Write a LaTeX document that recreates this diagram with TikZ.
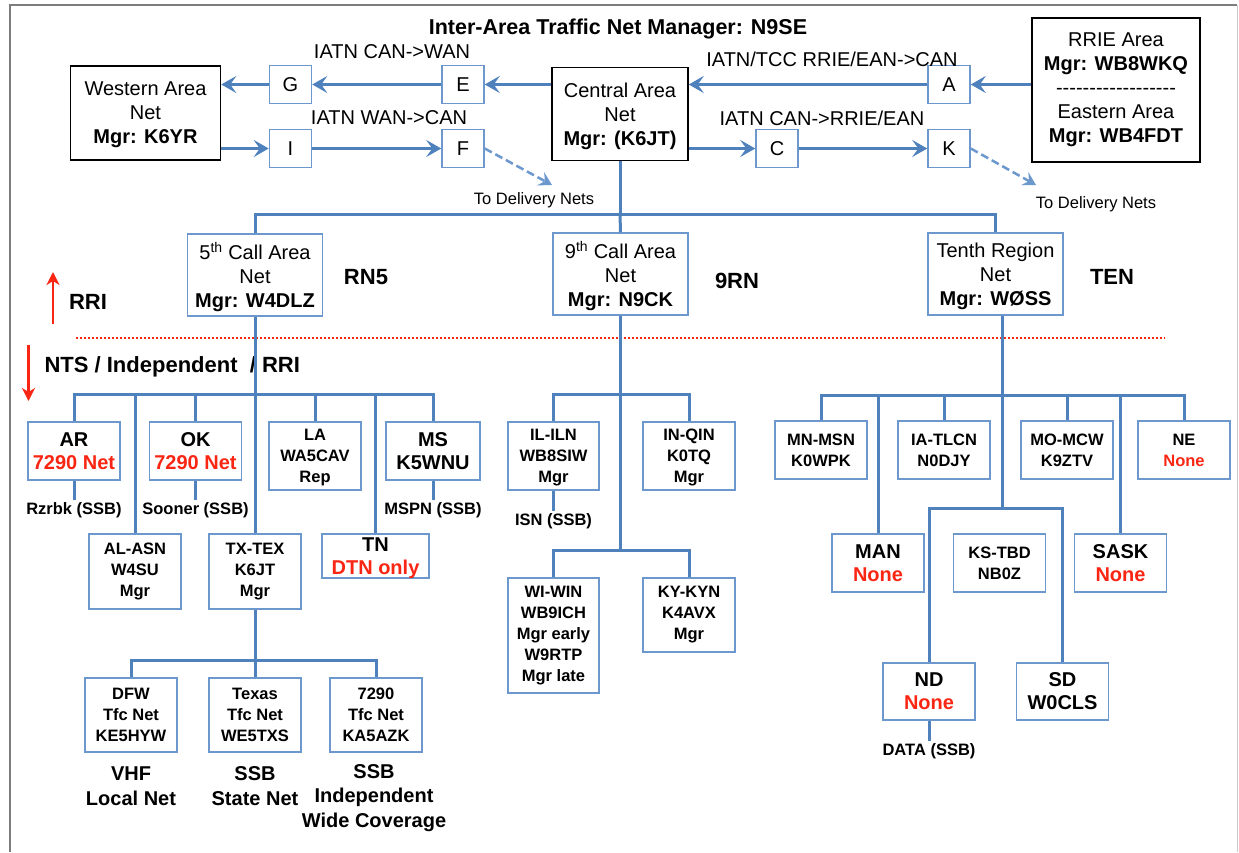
\documentclass[tikz,border=0pt]{standalone}
\usepackage{fontspec}
\setmainfont{Liberation Sans}
\usepackage{xcolor}
\usepackage{tikz}
\usetikzlibrary{calc}
\usetikzlibrary{arrows.meta}
\definecolor{net-blue1}{RGB}{79, 129, 189}
\definecolor{net-blue2}{RGB}{108, 152, 206}
\definecolor{net-red1}{RGB}{250, 38, 20}
\definecolor{net-gray1}{RGB}{125, 125, 125}
\newcommand{\redtx}[1]{\textcolor{net-red1}{#1}}
\newcommand{\dashrow}{\mbox{-}\mbox{-}\mbox{-}\mbox{-}\mbox{-}\mbox{-}\mbox{-}\mbox{-}\mbox{-}\mbox{-}\mbox{-}\mbox{-}\mbox{-}\mbox{-}\mbox{-}\mbox{-}\mbox{-}\mbox{-}}

\begin{document}
\begin{tikzpicture}[x=1pt, y=-1pt,
    net/.style={draw=black, line width=1.5pt, fill=white, align=center, inner sep=0pt, font=\fontsize{20}{24}\selectfont},
    relay/.style={draw=net-blue2, line width=1.5pt, fill=white, minimum width=42pt, minimum height=38pt, inner sep=0pt, font=\fontsize{20}{24}\selectfont},
    region/.style={draw=net-blue2, line width=1.5pt, fill=white, align=center, minimum width=135pt, minimum height=82pt, inner sep=0pt, font=\fontsize{20}{24}\selectfont},
    state/.style={draw=net-blue2, line width=1.5pt, fill=white, align=center, minimum width=92pt, inner sep=0pt, font=\bfseries\fontsize{16.5}{21}\selectfont},
    bigstate/.style={state, font=\bfseries\fontsize{20}{23}\selectfont},
    link/.style={draw=net-blue1, line width=3pt},
    feed/.style={link, -{Stealth[length=15pt, width=17pt, inset=6pt]}},
    spill/.style={draw=net-blue2, line width=2.5pt, dash pattern=on 8pt off 4pt, -{Stealth[length=13pt, width=15pt, inset=5pt]}},
    tag/.style={font=\bfseries\fontsize{16.5}{20}\selectfont, inner sep=3pt},
    lane/.style={font=\fontsize{20}{24}\selectfont},
    side/.style={font=\bfseries\fontsize{22}{26}\selectfont},
    bandcap/.style={align=center, font=\bfseries\fontsize{20}{24.5}\selectfont},
    rrimark/.style={draw=net-red1, line width=2.5pt, -{Stealth[length=13pt, width=13pt, inset=4pt]}}]
  \useasboundingbox (0,0) rectangle (1239,852);
  \draw[net-gray1, line width=2pt] (10,852) -- (10,5) -- (1237,5);
  \draw[net-gray1!40, line width=1pt] (1237,5) -- (1237,852);

  % area nets and the IATN relays
  \node[font=\bfseries\fontsize{21.5}{26}\selectfont] (title) at (618,29) {Inter-Area Traffic Net Manager: N9SE};
  \node[net, minimum width=150pt, minimum height=94pt, text depth=-10pt] (west) at (145.5,113) {Western Area\\Net\\\textbf{Mgr: K6YR}};
  \node[net, minimum width=136pt, minimum height=93pt, text depth=-9pt] (cen) at (620,114) {Central Area\\Net\\\textbf{Mgr: (K6JT)}};
  \node[net, minimum width=168pt, minimum height=144pt] (rrie) at (1116,90) {RRIE Area\\\textbf{Mgr: WB8WKQ}\\\dashrow\\Eastern Area\\\textbf{Mgr: WB4FDT}};
  \node[relay] (G) at (290.5,84.5) {G};
  \node[relay] (E) at (463,84.5) {E};
  \node[relay] (A) at (949,84.5) {A};
  \node[relay] (I) at (290.5,148.5) {I};
  \node[relay] (F) at (463,148.5) {F};
  \node[relay] (C) at (777,148.5) {C};
  \node[relay] (K) at (949,148.5) {K};
  \node[lane] (canwan) at (392,52) {IATN CAN->WAN};
  \node[lane] (wancan) at (389,118) {IATN WAN->CAN};
  \node[lane] (rriecan) at (832,59) {IATN/TCC RRIE/EAN->CAN};
  \node[lane] (canrrie) at (822,118) {IATN CAN->RRIE/EAN};

  \draw[feed] (cen.west |- E) -- (E);
  \draw[feed] (E) -- (G);
  \draw[feed] (G) -- (G -| west.east);
  \draw[feed] (rrie.west |- A) -- (A);
  \draw[feed] (A) -- (A -| cen.east);
  \draw[feed] (west.east |- I) -- (I);
  \draw[feed] (I) -- (F);
  \draw[feed] (cen.east |- C) -- (C);
  \draw[feed] (C) -- (K);

  \coordinate (fout) at (552,185);
  \coordinate (kout) at (1036,185);
  \draw[spill] (F.east) -- (fout);
  \draw[spill] (K.east) -- (kout);
  \node[font=\fontsize{16.5}{20}\selectfont] (todel1) at (534,200) {To Delivery Nets};
  \node[font=\fontsize{16.5}{20}\selectfont] (todel2) at (1096,204) {To Delivery Nets};

  % region nets
  \node[region, text depth=-2pt] (five) at (255,275) {5\textsuperscript{th} Call Area\\Net\\\textbf{Mgr: W4DLZ}};
  \node[region, text depth=-2pt] (nine) at (620.5,274) {9\textsuperscript{th} Call Area\\Net\\\textbf{Mgr: N9CK}};
  \node[region, text depth=-2pt] (ten) at (995.5,274) {Tenth Region\\Net\\\textbf{Mgr: WØSS}};
  \node[side] (rn5) at (366,277) {RN5};
  \node[side] (nrn) at (737,281) {9RN};
  \node[side] (tenl) at (1112,277) {TEN};

  \draw[link] (cen.south) -- ++(0,53) coordinate (hub);
  \draw[link] (five.north) |- (hub) -| (ten.north);
  \draw[link] (hub) -- (nine.north);

  % RRI / NTS divide
  \draw[rrimark] (53,324) -- (53,272);
  \node[side] (rri) at (88,302) {RRI};
  \draw[net-red1, line width=2pt, dash pattern=on 2pt off 2pt] (76,338) -- (1165,338);
  \draw[rrimark] (28.5,345) -- (28.5,401);
  \node[side, anchor=west] (nts) at (41,367) {NTS / Independent\ \ / RRI};

  % 5th call area
  \node[bigstate, minimum height=58pt] (ar) at (74,451) {AR\\\redtx{7290 Net}};
  \node[bigstate, minimum height=58pt] (ok) at (195.5,451) {OK\\\redtx{7290 Net}};
  \node[state, minimum height=68pt, text depth=-4pt] (la) at (315,456) {LA\\WA5CAV\\Rep};
  \node[bigstate, minimum height=58pt, minimum width=94pt] (ms) at (433,451) {MS\\K5WNU};
  \node[state, minimum height=75pt] (alasn) at (135,571.5) {AL-ASN\\W4SU\\Mgr};
  \node[state, minimum height=75pt] (txtex) at (255,571.5) {TX-TEX\\K6JT\\Mgr};
  \node[bigstate, minimum height=44pt, minimum width=107pt, text depth=-6pt] (tn) at (375.5,556) {TN\\\redtx{DTN only}};

  \draw[link] (five.south) -- ++(0,78) coordinate (b5);
  \foreach \s in {ar,ok,la,ms,alasn,txtex,tn}
    \draw[link] (b5) -| (\s.north);
  \draw[link] (ar.south) -- ++(0,19) coordinate (arend);
  \draw[link] (ok.south) -- ++(0,19) coordinate (okend);
  \draw[link] (ms.south) -- ++(0,19) coordinate (msend);
  \node[tag, below] (rzrbk) at (arend) {Rzrbk (SSB)};
  \node[tag, below] (sooner) at (okend) {Sooner (SSB)};
  \node[tag, below] (mspn) at (msend) {MSPN (SSB)};

  \node[state, minimum height=74pt] (dfw) at (131,715) {DFW\\Tfc Net\\KE5HYW};
  \node[state, minimum height=74pt] (texas) at (255,715) {Texas\\Tfc Net\\WE5TXS};
  \node[state, minimum height=74pt] (wide) at (376,715) {7290\\Tfc Net\\KA5AZK};
  \draw[link] (txtex.south) -- ++(0,51) coordinate (btx);
  \foreach \s in {dfw,texas,wide}
    \draw[link] (btx) -| (\s.north);
  \node[bandcap] (vhf) at (131,786) {VHF\\Local Net};
  \node[bandcap] (ssbst) at (255,786) {SSB\\State Net};
  \node[bandcap] (ssbind) at (374,798) {SSB\\Independent\\Wide Coverage};

  % 9th call area
  \node[state, minimum height=68pt, minimum width=91pt, text depth=-2pt] (ilin) at (553.5,456) {IL-ILN\\WB8SIW\\Mgr};
  \node[state, minimum height=68pt, text depth=-2pt] (inqin) at (689,456) {IN-QIN\\K0TQ\\Mgr};
  \node[state, minimum height=115pt, minimum width=91pt] (wiwin) at (553.5,635.5) {WI-WIN\\WB9ICH\\Mgr early\\W9RTP\\Mgr late};
  \node[state, minimum height=74pt] (kykyn) at (689,615) {KY-KYN\\K4AVX\\Mgr};
  \draw[link] (nine.south) -- ++(0,79) coordinate (b9);
  \draw[link] (b9) -| (ilin.north);
  \draw[link] (b9) -| (inqin.north);
  \draw[link] (b9) -- ++(0,156) coordinate (b9w);
  \draw[link] (b9w) -| (wiwin.north);
  \draw[link] (b9w) -| (kykyn.north);
  \draw[link] (ilin.south) -- ++(0,20) coordinate (ilend);
  \node[tag, below] (isn) at (ilend) {ISN (SSB)};

  % tenth region
  \node[state, minimum height=58pt] (mnmsn) at (821,450) {MN-MSN\\K0WPK};
  \node[state, minimum height=58pt] (iatlcn) at (944,450) {IA-TLCN\\N0DJY};
  \node[state, minimum height=58pt] (momcw) at (1067,450) {MO-MCW\\K9ZTV};
  \node[state, minimum height=58pt] (ne) at (1184,450) {NE\\\redtx{None}};
  \node[bigstate, minimum height=58pt] (man) at (878,563) {MAN\\\redtx{None}};
  \node[state, minimum height=58pt] (kstbd) at (999.5,563) {KS-TBD\\NB0Z};
  \node[bigstate, minimum height=58pt] (sask) at (1120.5,563) {SASK\\\redtx{None}};
  \node[bigstate, minimum height=57pt] (nd) at (929,691.5) {ND\\\redtx{None}};
  \node[bigstate, minimum height=57pt] (sd) at (1062.5,691.5) {SD\\W0CLS};

  \draw[link] ([xshift=7pt]ten.south) -- ++(0,80) coordinate (b10);
  \foreach \s in {mnmsn,man,iatlcn,momcw,sask,ne}
    \draw[link] (b10) -| (\s.north);
  \draw[link] (b10) -- ++(0,113) coordinate (b10s);
  \draw[link] (b10s) -| (nd.north);
  \draw[link] (b10s) -| (sd.north);
  \draw[link] (nd.south) -- ++(0,20) coordinate (ndend);
  \node[tag, below] (data) at (ndend) {DATA (SSB)};
\end{tikzpicture}
\end{document}
